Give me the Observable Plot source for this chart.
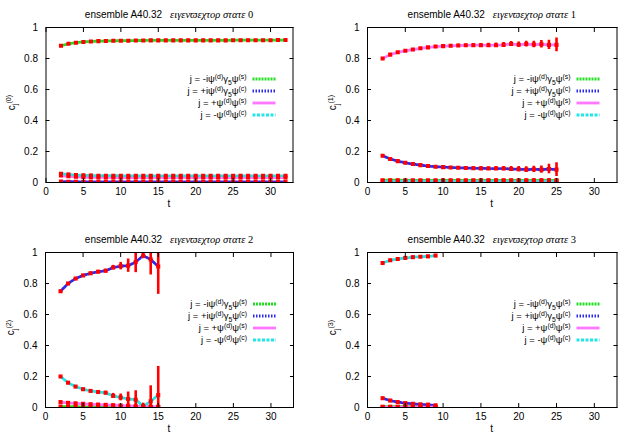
<!DOCTYPE html>
<html><head><meta charset="utf-8">
<script src="https://cdn.jsdelivr.net/npm/d3@7"></script>
<script src="https://cdn.jsdelivr.net/npm/@observablehq/plot@0.6"></script>
<style>
body{margin:0;background:#fff}
#fig{position:relative;width:631px;height:441px;font-family:"Liberation Sans",Arial,sans-serif}
#fig svg{position:absolute;overflow:visible}
</style></head><body><div id="fig"></div>
<script>
// ---------- data ----------
const xTicks = [0, 5, 10, 15, 20, 25, 30];
const yTicks = [0, 0.2, 0.4, 0.6, 0.8, 1];
const seriesKeys = ["g", "b", "m", "c"];
const seriesColors = ["#22dd22", "#2a2aee", "#ff77ff", "#22e5e5"];
const seriesDash = ["2,1", "1.5,1.5", null, "3,1.5"];
const ensemble = "ensemble A40.32";
const stateWord = "ειγενϖεχτορ στατε";

// state 0
const t0 = [2,3,4,5,6,7,8,9,10,11,12,13,14,15,16,17,18,19,20,21,22,23,24,25,26,27,28,29,30,31,32];
const g0 = [0.882,0.895,0.902,0.907,0.910,0.912,0.913,0.914,0.915,0.915,0.916,0.916,0.917,0.917,0.917,0.917,0.917,0.917,0.917,0.917,0.917,0.917,0.917,0.918,0.918,0.918,0.918,0.918,0.918,0.919,0.919];
const b0 = [0.006,0.005,0.005,0.004,0.004,0.004,0.004,0.004,0.004,0.004,0.004,0.004,0.004,0.004,0.004,0.004,0.004,0.004,0.004,0.004,0.004,0.004,0.004,0.004,0.004,0.004,0.004,0.004,0.004,0.004,0.004];
const m0 = [0.045,0.040,0.037,0.035,0.034,0.033,0.033,0.032,0.032,0.032,0.032,0.032,0.032,0.032,0.032,0.032,0.032,0.032,0.032,0.032,0.032,0.032,0.032,0.032,0.032,0.032,0.032,0.032,0.032,0.032,0.032];
const c0 = [0.057,0.052,0.048,0.046,0.045,0.044,0.044,0.044,0.043,0.043,0.043,0.043,0.043,0.043,0.043,0.043,0.043,0.043,0.043,0.043,0.043,0.043,0.043,0.043,0.043,0.043,0.043,0.043,0.043,0.043,0.043];
const eg0 = [0.003,0.003,0.003,0.003,0.003,0.003,0.003,0.003,0.003,0.003,0.003,0.003,0.003,0.003,0.003,0.003,0.003,0.003,0.003,0.003,0.003,0.003,0.003,0.003,0.003,0.003,0.003,0.003,0.003,0.003,0.003];
const eb0 = [0.003,0.003,0.003,0.003,0.003,0.003,0.003,0.003,0.003,0.003,0.003,0.003,0.003,0.003,0.003,0.003,0.003,0.003,0.003,0.003,0.003,0.003,0.003,0.003,0.003,0.003,0.003,0.003,0.003,0.003,0.003];
const em0 = [0.006,0.006,0.006,0.006,0.006,0.006,0.006,0.006,0.006,0.006,0.006,0.006,0.006,0.006,0.006,0.006,0.006,0.006,0.006,0.006,0.006,0.006,0.006,0.006,0.006,0.006,0.006,0.006,0.006,0.006,0.006];
const ec0 = [0.008,0.008,0.008,0.008,0.008,0.008,0.008,0.008,0.008,0.008,0.008,0.008,0.008,0.008,0.008,0.008,0.008,0.008,0.008,0.008,0.008,0.008,0.008,0.008,0.008,0.008,0.008,0.008,0.008,0.008,0.008];

// state 1
const t1 = [2,3,4,5,6,7,8,9,10,11,12,13,14,15,16,17,18,19,20,21,22,23,24,25];
const g1 = [0.015,0.015,0.015,0.014,0.014,0.014,0.014,0.014,0.014,0.014,0.014,0.014,0.014,0.014,0.014,0.014,0.014,0.014,0.014,0.014,0.014,0.014,0.014,0.014];
const b1 = [0.173,0.152,0.138,0.127,0.119,0.112,0.106,0.102,0.099,0.097,0.095,0.094,0.092,0.091,0.090,0.090,0.090,0.087,0.086,0.083,0.085,0.083,0.087,0.083];
const m1 = [0.800,0.825,0.840,0.850,0.858,0.866,0.872,0.877,0.880,0.882,0.884,0.885,0.886,0.886,0.885,0.886,0.888,0.893,0.889,0.893,0.890,0.892,0.888,0.888];
const c1 = [0.009,0.009,0.008,0.008,0.008,0.008,0.008,0.008,0.008,0.008,0.008,0.008,0.008,0.008,0.008,0.008,0.008,0.008,0.008,0.008,0.008,0.008,0.008,0.008];
const eg1 = [0.006,0.006,0.006,0.006,0.006,0.006,0.006,0.006,0.006,0.007,0.007,0.007,0.007,0.007,0.008,0.008,0.008,0.008,0.009,0.009,0.010,0.010,0.011,0.012];
const eb1 = [0.004,0.004,0.004,0.004,0.005,0.005,0.005,0.006,0.006,0.007,0.007,0.008,0.009,0.010,0.012,0.013,0.014,0.016,0.017,0.018,0.020,0.023,0.030,0.045];
const em1 = [0.004,0.004,0.004,0.005,0.005,0.005,0.006,0.006,0.007,0.007,0.008,0.009,0.010,0.011,0.013,0.014,0.015,0.016,0.017,0.019,0.021,0.024,0.030,0.045];
const ec1 = [0.005,0.005,0.005,0.005,0.005,0.005,0.005,0.005,0.005,0.005,0.005,0.005,0.005,0.005,0.006,0.006,0.006,0.006,0.006,0.006,0.007,0.007,0.007,0.008];

// state 2
const t2 = [2,3,4,5,6,7,8,9,10,11,12,13,14,15];
const g2 = [0.006,0.005,0.005,0.004,0.004,0.004,0.003,0.003,0.003,0.003,0.002,0.002,0.002,0.002];
const b2 = [0.750,0.800,0.832,0.852,0.866,0.876,0.882,0.903,0.912,0.915,0.938,0.980,0.955,0.910];
const m2 = [0.035,0.030,0.027,0.024,0.021,0.019,0.017,0.015,0.013,0.011,0.009,0.006,0.006,0.005];
const c2 = [0.200,0.160,0.135,0.118,0.107,0.100,0.095,0.075,0.065,0.055,0.050,0.008,0.040,0.080];
const eg2 = [0.003,0.003,0.003,0.003,0.003,0.003,0.003,0.003,0.003,0.003,0.003,0.003,0.003,0.003];
const eb2 = [0.006,0.006,0.007,0.008,0.008,0.009,0.011,0.014,0.024,0.043,0.068,0.020,0.100,0.180];
const em2 = [0.004,0.004,0.004,0.004,0.004,0.004,0.004,0.004,0.004,0.005,0.005,0.005,0.006,0.006];
const ec2 = [0.006,0.006,0.006,0.007,0.008,0.008,0.010,0.016,0.022,0.045,0.058,0.020,0.100,0.185];

// state 3
const t3 = [2,3,4,5,6,7,8,9];
const g3 = [0.005,0.005,0.005,0.005,0.005,0.005,0.005,0.005];
const b3 = [0.060,0.045,0.035,0.028,0.024,0.020,0.018,0.013];
const m3 = [0.002,0.002,0.002,0.002,0.002,0.002,0.002,0.002];
const c3 = [0.932,0.950,0.958,0.965,0.970,0.973,0.975,0.980];
const eg3 = [0.003,0.003,0.003,0.003,0.003,0.003,0.003,0.003];
const eb3 = [0.005,0.005,0.005,0.006,0.007,0.008,0.009,0.010];
const em3 = [0.003,0.003,0.003,0.003,0.003,0.003,0.003,0.003];
const ec3 = [0.004,0.004,0.004,0.004,0.005,0.005,0.006,0.006];

// legend labels: segments [text, kind]
const legendLabels = [
  [["j = -iψ",""],["(d)","sup"],["γ",""],["5","sub"],["ψ",""],["(s)","sup"]],
  [["j = +iψ",""],["(d)","sup"],["γ",""],["5","sub"],["ψ",""],["(c)","sup"]],
  [["j = +ψ",""],["(d)","sup"],["ψ",""],["(s)","sup"]],
  [["j = -ψ",""],["(d)","sup"],["ψ",""],["(c)","sup"]]
];

// ---------- panels ----------
const panels = [
  {state: 0, t: t0, vals: [g0,b0,m0,c0], errs: [eg0,eb0,em0,ec0], left: 0,   top: 0,   width: 315, height: 220, mL: 45.5, mR: 22.5, mT: 27, mB: 38},
  {state: 1, t: t1, vals: [g1,b1,m1,c1], errs: [eg1,eb1,em1,ec1], left: 315, top: 0,   width: 316, height: 220, mL: 52,   mR: 14.5, mT: 27, mB: 38},
  {state: 2, t: t2, vals: [g2,b2,m2,c2], errs: [eg2,eb2,em2,ec2], left: 0,   top: 220, width: 315, height: 221, mL: 45,   mR: 22,   mT: 32, mB: 34},
  {state: 3, t: t3, vals: [g3,b3,m3,c3], errs: [eg3,eb3,em3,ec3], left: 315, top: 220, width: 316, height: 221, mL: 52,   mR: 14.5, mT: 32, mB: 34}
];

const fig = document.getElementById("fig");
const fontSans = "Liberation Sans, Arial, sans-serif";

function addRich(sel, segs, size) {
  segs.forEach(([txt, kind], i) => {
    const prev = i > 0 ? segs[i-1][1] : "";
    let dy = 0;
    if (prev === "sup") dy += 3.5; else if (prev === "sub") dy -= 2.5;
    if (kind === "sup") dy -= 3.5; else if (kind === "sub") dy += 2.5;
    sel.append("tspan").attr("dy", dy || null)
      .attr("font-size", kind ? size * 0.72 : size).text(txt);
  });
}

for (const p of panels) {
  const rows = [];
  p.vals.forEach((arr, si) => arr.forEach((v, i) => rows.push({t: p.t[i], v, e: p.errs[si][i], s: seriesKeys[si]})));
  const lineMarks = seriesKeys.map((k, si) => Plot.line(rows.filter(r => r.s === k), {
    x: "t", y: "v", stroke: seriesColors[si], strokeWidth: 2.8,
    strokeDasharray: seriesDash[si], clip: true
  }));
  const plot = Plot.plot({
    width: p.width, height: p.height,
    marginLeft: p.mL, marginRight: p.mR, marginTop: p.mT, marginBottom: p.mB,
    style: {fontFamily: fontSans, fontSize: "10px", background: "transparent", color: "#000"},
    x: {domain: [0, 33]},
    y: {domain: [0, 1]},
    marks: [
      ...lineMarks,
      Plot.ruleX(rows, {x: "t", y1: d => d.v - d.e, y2: d => d.v + d.e, stroke: "#ff0000", strokeWidth: 2.6, clip: true}),
      Plot.dot(rows, {x: "t", y: "v", symbol: "square", r: 2.3, fill: "#ff0000", stroke: "none", clip: true}),
      Plot.frame({stroke: "#000", strokeWidth: 1}),
      Plot.axisX(xTicks, {anchor: "bottom", tickSize: -4, tickPadding: 9, label: null, tickFormat: d3.format("~g")}),
      Plot.axisX(xTicks, {anchor: "top", tickSize: -4, fill: "none", label: null}),
      Plot.axisY(yTicks, {anchor: "left", tickSize: -4, tickPadding: 12, label: null, tickFormat: d3.format("~g")}),
      Plot.axisY(yTicks, {anchor: "right", tickSize: -4, fill: "none", label: null})
    ]
  });
  plot.style.left = p.left + "px";
  plot.style.top = p.top + "px";
  fig.appendChild(plot);

  const sx = plot.scale("x"), sy = plot.scale("y");
  const x0 = sx.apply(0), x1 = sx.apply(33), yTop = sy.apply(1), yBot = sy.apply(0);
  const cx = (x0 + x1) / 2;
  const svg = d3.select(plot);

  // title
  const title = svg.append("text").attr("x", cx).attr("y", yTop - 9).attr("text-anchor", "middle")
    .attr("font-size", 10).attr("fill", "#000");
  title.append("tspan").attr("font-family", fontSans).text(ensemble);
  title.append("tspan").attr("dx", 8).attr("font-family", "Liberation Serif, DejaVu Serif, serif")
    .attr("font-style", "italic").attr("font-size", 10.5).text(stateWord + " ");
  title.append("tspan").attr("font-family", "Liberation Serif, DejaVu Serif, serif").attr("font-size", 10.5).text(String(p.state));

  // x label
  svg.append("text").attr("x", cx).attr("y", yBot + 25).attr("text-anchor", "middle")
    .attr("font-size", 10).attr("font-family", fontSans).text("t");

  // y label
  const yl = svg.append("text").attr("transform", `translate(${p.mL - 31},${(yTop + yBot) / 2 - 2}) rotate(-90)`)
    .attr("text-anchor", "middle").attr("font-size", 10).attr("font-family", fontSans);
  addRich(yl, [["c",""],["j","sub"],["("+p.state+")","sup"]], 10);

  // legend
  const lineEnd = x1 - 17, lineStart = lineEnd - 23;
  legendLabels.forEach((segs, i) => {
    const yy = yTop + 52 + i * 12;
    const tx = svg.append("text").attr("x", lineStart - 6).attr("y", yy).attr("dy", "0.35em")
      .attr("text-anchor", "end").attr("font-size", 9.5).attr("font-family", fontSans);
    addRich(tx, segs, 9.5);
    svg.append("line").attr("x1", lineStart).attr("x2", lineEnd).attr("y1", yy).attr("y2", yy)
      .attr("stroke", seriesColors[i]).attr("stroke-width", 2.8)
      .attr("stroke-dasharray", seriesDash[i]);
  });
}
</script></body></html>
